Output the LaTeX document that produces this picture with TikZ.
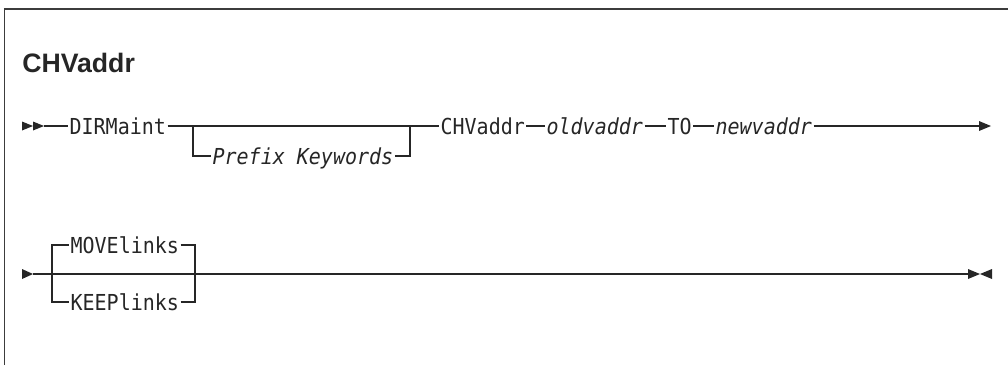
\documentclass[tikz,border=0pt]{standalone}
\usepackage{fontspec}
\setmainfont{Liberation Sans}
\newfontfamily\monof{DejaVu Sans Mono}
\definecolor{ink}{HTML}{262626}
\definecolor{framec}{HTML}{3C3C3C}
\newcommand\tallbox[1]{\scalebox{1}[1.1]{#1}}
\begin{document}
\begin{tikzpicture}[x=0.75pt,y=-0.75pt,
  kw/.style={font=\monof\fontsize{15}{18}\selectfont, text=ink, inner xsep=1pt, inner ysep=0pt, text height=13pt, text depth=1pt, anchor=west},
  var/.style={kw, font=\monof\itshape\fontsize{15}{18}\selectfont},
  rail/.style={draw=ink, line width=0.9pt},
  tip/.style={fill=ink, draw=none}]
\useasboundingbox (0,0) rectangle (1008,365);
% frame
\draw[draw=framec, line width=1.1pt] (4.5,365) -- (4.5,8.5);
\draw[draw=framec, line width=1.5pt] (3.8,8.5) -- (1008,8.5);
% title
\node[anchor=base west, font=\bfseries\fontsize{20}{23}\selectfont, text=ink, inner sep=0pt] (title) at (22,72) {CHVaddr};
% line 1
\coordinate (a0) at (22,126);
\coordinate (a05) at (33,126);
\coordinate (a1) at (44,126);
\fill[tip, shift={(a0)}] (0,-4.5) -- (11,0) -- (0,4.5) -- cycle;
\fill[tip, shift={(a05)}] (0,-4.5) -- (11,0) -- (0,4.5) -- cycle;
\node[kw] (dir) at (68,126) {\tallbox{DIRMaint}};
\coordinate (b1) at (193,126);
\coordinate (b2) at (410,126);
\node[var] (pre) at (211,156) {\tallbox{Prefix Keywords}};
\node[kw] (chv) at (439,126) {\tallbox{CHVaddr}};
\node[var] (old) at (545,126) {\tallbox{oldvaddr}};
\node[kw] (to) at (666,126) {\tallbox{TO}};
\node[var] (new) at (714,126) {\tallbox{newvaddr}};
\coordinate (e1) at (979,126);
\fill[tip, shift={(e1)}] (0,-5) -- (12,0) -- (0,5) -- cycle;
\draw[rail] (a1) -- (dir.west);
\draw[rail] (dir.east) -- (chv.west);
\draw[rail] (b1) |- (pre.west);
\draw[rail] (pre.east) -| (b2);
\draw[rail] (chv.east) -- (old.west);
\draw[rail] (old.east) -- (to.west);
\draw[rail] (to.east) -- (new.west);
\draw[rail] (new.east) -- (e1);
% line 2
\coordinate (c0) at (22,274);
\coordinate (c1) at (33,274);
\fill[tip, shift={(c0)}] (0,-5) -- (11,0) -- (0,5) -- cycle;
\coordinate (m1) at (52,274);
\coordinate (m2) at (195,274);
\node[kw] (mov) at (69,245) {\tallbox{MOVElinks}};
\node[kw] (kep) at (69,302) {\tallbox{KEEPlinks}};
\coordinate (c2) at (968,274);
\coordinate (c3) at (992,274);
\draw[rail] (c1) -- (c2);
\draw[rail] (m1) |- (mov.west);
\draw[rail] (mov.east) -| (m2);
\draw[rail] (m1) |- (kep.west);
\draw[rail] (kep.east) -| (m2);
\draw[ink, line width=1.7pt] (201,274) -- (225,274);
\fill[tip, shift={(c2)}] (0,-5) -- (12,0) -- (0,5) -- cycle;
\fill[tip, shift={(c3)}] (0,-5) -- (-12,0) -- (0,5) -- cycle;
\end{tikzpicture}
\end{document}
